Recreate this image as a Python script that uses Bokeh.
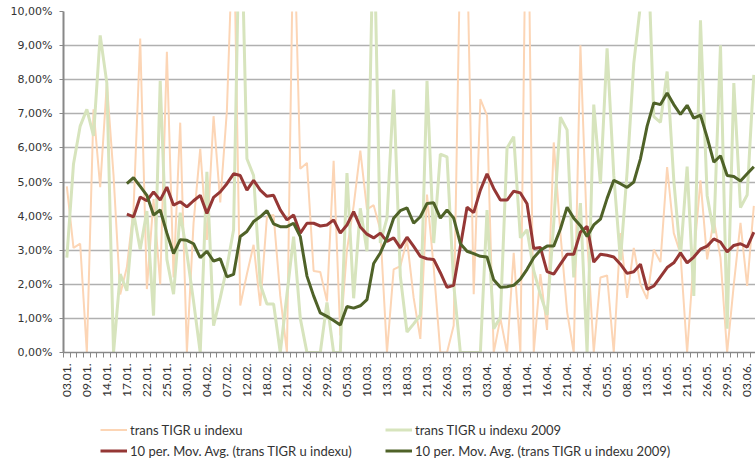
import math
from bokeh.plotting import figure
from bokeh.layouts import column
from bokeh.models import Range1d, FixedTicker, Legend, LegendItem
from bokeh.embed import file_html
from bokeh.resources import INLINE

# ---- data (percent units) ----
date_labels = ["03.01.", "09.01.", "14.01.", "17.01.", "22.01.", "25.01.", "30.01.",
               "04.02.", "07.02.", "12.02.", "18.02.", "21.02.", "26.02.", "29.02.",
               "05.03.", "10.03.", "13.03.", "18.03.", "21.03.", "26.03.", "31.03.",
               "03.04.", "08.04.", "11.04.", "16.04.", "21.04.", "24.04.", "05.05.",
               "08.05.", "13.05.", "16.05.", "21.05.", "26.05.", "29.05.", "03.06."]
label_step = 3

y_tick_vals = [0, 1, 2, 3, 4, 5, 6, 7, 8, 9, 10]
y_tick_labels = ["0,00%", "1,00%", "2,00%", "3,00%", "4,00%", "5,00%",
                 "6,00%", "7,00%", "8,00%", "9,00%", "10,00%"]

orange = [4.87, 3.07, 3.19, 0.0, 7.13, 4.85, 7.9, 5.2, 1.7, 2.5,
          4.2, 9.21, 1.86, 4.5, 2.0, 8.82, 2.2, 6.74, 0.0, 3.8,
          5.97, 3.3, 6.93, 4.4, 7.1, 12.9, 1.38, 2.3, 3.16, 1.37,
          3.98, 4.03, 1.66, 0.0, 13.0, 5.39, 5.56, 2.39, 2.36, 1.5,
          5.62, 0.5, 3.0, 4.3, 5.92, 4.2, 4.32, 3.6, 0.0, 2.44,
          2.53, 3.3, 1.6, 0.4, 4.63, 2.5, 0.0, 0.0, 0.79, 12.0,
          12.0, 1.71, 7.43, 6.95, 0.0, 1.0, 0.0, 2.92, 0.0, 16.0,
          0.0, 2.3, 0.66, 6.16, 3.5, 1.2, 0.0, 9.01, 3.4, 0.0,
          2.2, 2.26, 0.0, 3.5, 1.6, 3.07, 2.0, 1.57, 3.02, 2.65,
          5.44, 3.5, 2.9, 0.0, 2.8, 5.05, 2.73, 3.9, 2.78, 0.0,
          2.0, 3.8, 1.95, 4.3]

green = [2.78, 5.53, 6.64, 7.13, 6.35, 9.30, 7.90, 0.0, 2.3, 1.81,
         4.1, 3.02, 4.15, 1.08, 7.97, 2.73, 1.71, 4.1, 2.9, 1.5,
         0.0, 5.3, 0.79, 1.6, 2.5, 3.6, 14.0, 5.68, 5.19, 2.0,
         1.42, 1.42, 0.0, 1.7, 3.4, 1.0, 0.0, 0.0, 0.0, 1.47,
         0.0, 0.0, 5.26, 1.59, 4.23, 2.97, 13.0, 3.21, 3.94, 7.71,
         2.24, 0.6, 0.84, 1.1, 7.97, 3.21, 5.82, 5.74, 2.0, 0.0,
         0.0, 0.0, 0.0, 4.18, 0.7, 1.03, 6.0, 6.33, 3.36, 3.6,
         2.4, 1.7, 1.1, 3.8, 6.9, 6.53, 2.2, 4.38, 0.0, 7.27,
         4.95, 8.92, 5.2, 2.7, 5.3, 8.48, 10.2, 12.5, 6.92, 6.75,
         8.24, 5.05, 2.82, 5.45, 1.66, 9.74, 4.6, 3.5, 9.01, 0.7,
         7.9, 4.25, 4.62, 8.14]

ma_start = 9
ma_orange = [4.06, 3.98, 4.56, 4.45, 4.71, 4.47, 4.85, 4.32, 4.42, 4.27,
             4.45, 4.61, 4.08, 4.55, 4.71, 4.95, 5.24, 5.19, 4.76, 5.05,
             4.76, 4.58, 4.61, 4.18, 3.89, 4.03, 3.50, 3.79, 3.79, 3.71,
             3.74, 3.89, 3.50, 3.74, 4.13, 3.68, 3.47, 3.36, 3.50, 3.26,
             3.36, 3.07, 3.38, 3.11, 2.82, 2.75, 2.73, 2.34, 1.91, 1.97,
             3.11, 4.26, 4.10, 4.76, 5.24, 4.81, 4.47, 4.47, 4.73, 4.68,
             4.36, 3.05, 3.08, 2.37, 2.30, 2.59, 2.88, 2.88, 3.53, 3.70,
             2.65, 2.88, 2.85, 2.80, 2.59, 2.32, 2.37, 2.59, 1.85, 1.95,
             2.22, 2.49, 2.63, 2.92, 2.63, 2.80, 3.03, 3.12, 3.33, 3.24,
             2.95, 3.14, 3.19, 3.09, 3.53]

ma_green = [4.95, 5.13, 4.87, 4.61, 4.03, 4.18, 3.50, 2.90, 3.31, 3.29,
            3.19, 2.78, 2.97, 2.68, 2.75, 2.22, 2.29, 3.40, 3.55, 3.84,
            3.98, 4.16, 3.77, 3.69, 3.69, 3.79, 3.40, 2.24, 1.66, 1.16,
            1.06, 0.94, 0.81, 1.35, 1.30, 1.37, 1.55, 2.61, 2.92, 3.36,
            3.94, 4.16, 4.24, 3.79, 3.98, 4.37, 4.39, 3.94, 4.18, 3.94,
            3.19, 2.97, 2.90, 2.82, 2.80, 2.13, 1.91, 1.93, 1.97, 2.15,
            2.44, 2.78, 3.00, 3.12, 3.12, 3.62, 4.26, 3.94, 3.72, 3.40,
            3.74, 3.91, 4.52, 5.05, 4.95, 4.84, 5.00, 5.68, 6.64, 7.32,
            7.27, 7.61, 7.27, 6.98, 7.25, 6.87, 6.96, 6.31, 5.58, 5.77,
            5.19, 5.16, 5.03, 5.24, 5.45]

names = ["trans TIGR u indexu",
         "trans TIGR u indexu 2009",
         "10 per. Mov. Avg. (trans TIGR u indexu)",
         "10 per. Mov. Avg. (trans TIGR u indexu 2009)"]
colors = ["#fcd5b5", "#d7e4bd", "#953735", "#4f6228"]
widths = [2, 3, 3, 3]

# ---- main chart ----
n = len(orange)
x = list(range(n))
ma_x = list(range(ma_start, ma_start + len(ma_orange)))
label_pos = [i * label_step for i in range(len(date_labels))]

p = figure(width=755, height=400, output_backend="svg", toolbar_location=None,
           x_range=Range1d(-0.5, 103.25), y_range=Range1d(0, 10),
           min_border_left=63, min_border_right=0, min_border_top=11,
           min_border_bottom=44)
p.title.visible = False
p.outline_line_color = None
p.background_fill_color = "white"
p.border_fill_color = "white"

p.line(x, orange, line_color=colors[0], line_width=widths[0])
p.line(x, green, line_color=colors[1], line_width=widths[1])
p.line(ma_x, ma_orange, line_color=colors[2], line_width=widths[2])
p.line(ma_x, ma_green, line_color=colors[3], line_width=widths[3])

ax = p.xaxis[0]
ax.ticker = FixedTicker(ticks=label_pos, minor_ticks=[i - 0.5 for i in range(n + 1)])
ax.major_label_overrides = {pos: lab for pos, lab in zip(label_pos, date_labels)}
ax.major_label_orientation = math.pi / 2
ax.major_tick_line_color = None
ax.major_tick_out = 0
ax.major_tick_in = 0
ax.minor_tick_out = 5
ax.minor_tick_in = 0
ax.minor_tick_line_color = "#888888"
ax.axis_line_color = "#888888"
ax.axis_line_width = 1.5
ax.major_label_standoff = 6
ax.major_label_text_font = "Lato"
ax.major_label_text_font_size = "12px"
ax.major_label_text_color = "#333333"

ay = p.yaxis[0]
ay.ticker = FixedTicker(ticks=y_tick_vals)
ay.major_label_overrides = dict(zip(y_tick_vals, y_tick_labels))
ay.minor_tick_line_color = None
ay.major_tick_out = 4
ay.major_tick_in = 0
ay.major_tick_line_color = "#888888"
ay.axis_line_color = "#888888"
ay.axis_line_width = 2
ay.major_label_standoff = 7
ay.major_label_text_font = "DejaVu Sans"
ay.major_label_text_font_size = "11px"
ay.major_label_text_color = "#333333"

p.xgrid.visible = False
p.ygrid.grid_line_color = "#b0b0b0"
p.ygrid.grid_line_width = 1.5

# ---- legend strip (its own small figure below the chart) ----
q = figure(width=755, height=60, output_backend="svg", toolbar_location=None,
           x_range=Range1d(0, 1), y_range=Range1d(0, 1),
           x_axis_type=None, y_axis_type=None,
           min_border_left=63, min_border_right=0, min_border_top=0,
           min_border_bottom=0)
q.title.visible = False
q.outline_line_color = None
q.xgrid.visible = False
q.ygrid.visible = False
q.background_fill_color = "white"
q.border_fill_color = "white"
dummies = [q.line([0, 0], [0, 0], line_color=c, line_width=w) for c, w in zip(colors, widths)]

legend = Legend(items=[LegendItem(label=nm, renderers=[r]) for nm, r in zip(names, dummies)],
                location=(37, 1), orientation="horizontal", ncols=2,
                glyph_width=27, glyph_height=17, label_height=17, label_width=251,
                label_standoff=3, spacing=4, padding=0, margin=0,
                border_line_color=None, background_fill_alpha=0,
                label_text_font="Lato", label_text_font_size="13px",
                label_text_color="#333333")
q.add_layout(legend)

layout = column(p, q, spacing=0)
open("out.html", "w").write(file_html(layout, INLINE))
